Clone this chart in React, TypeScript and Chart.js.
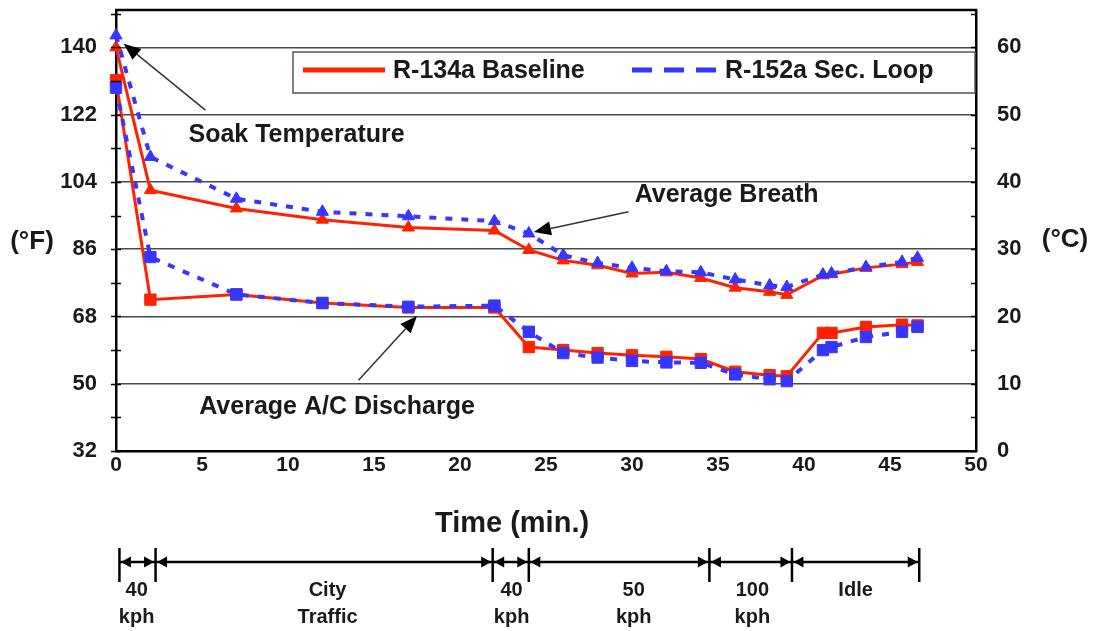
import React, { useEffect, useRef } from "react";
import { Chart, registerables } from "chart.js";

Chart.register(...registerables);

// ---------------- data ----------------
const TIME_MIN = [0, 2, 7, 12, 17, 22, 24, 26, 28, 30, 32, 34, 36, 38, 39, 41.1, 41.6, 43.6, 45.7, 46.6];
const R134A_BREATH_F = [140, 101.8, 96.9, 93.9, 91.8, 91.0, 85.8, 83.0, 81.7, 79.5, 79.8, 78.3, 75.7, 74.6, 73.8, 79.0, 79.3, 81.0, 82.0, 82.6];
const R152A_BREATH_F = [143.2, 110.7, 99.5, 96.0, 94.8, 93.5, 90.2, 84.4, 82.3, 81.0, 80.1, 79.8, 77.9, 76.3, 75.9, 79.2, 79.5, 81.2, 82.6, 83.7];
const R134A_DISCHARGE_F = [131.2, 72.5, 73.9, 71.6, 70.4, 70.4, 59.8, 59.0, 58.2, 57.6, 57.2, 56.6, 53.2, 52.3, 52.0, 63.6, 63.6, 65.2, 65.8, 65.6];
const R152A_DISCHARGE_F = [129.2, 83.9, 73.9, 71.6, 70.6, 70.9, 63.9, 58.2, 57.0, 56.1, 55.7, 55.6, 52.5, 51.2, 50.7, 59.0, 59.8, 62.5, 63.9, 65.2];

const SERIES_NAMES = ["R-134a Baseline", "R-152a Sec. Loop"];
const F_TICKS = [32, 50, 68, 86, 104, 122, 140];
const C_TICKS = [0, 10, 20, 30, 40, 50, 60];
const X_TICKS = [0, 5, 10, 15, 20, 25, 30, 35, 40, 45, 50];
const F_MIN = 32;
const F_MAX = 150;
const X_MIN = 0;
const X_MAX = 50;

const PHASE_BOUNDS = [0.2, 2.3, 21.9, 24.0, 34.5, 39.3, 46.7];
const PHASE_LABEL_AT = [1.2, 12.3, 23.0, 30.1, 37.0, 43.0];
const PHASE_LABELS = [["40", "kph"], ["City", "Traffic"], ["40", "kph"], ["50", "kph"], ["100", "kph"], ["Idle"]];

const CALLOUTS = [
  { text: "Soak Temperature", at: [10.5, 116.5], tail: [5.2, 123.2], tip: [0.45, 141.0] },
  { text: "Average Breath", at: [35.5, 100.4], tail: [29.8, 96.0], tip: [24.3, 90.6] },
  { text: "Average A/C Discharge", at: [12.85, 43.8], tail: [14.1, 50.9], tip: [17.5, 68.1] },
];

const X_TITLE = "Time (min.)";
const F_TITLE = "(°F)";
const C_TITLE = "(°C)";

// ---------------- style ----------------
const FONT = '"Liberation Sans", Arial, Helvetica, sans-serif';
const INK = "#1a1a1a";
const RED = "#ff2200";
const BLUE = "#3636ff";
const GRID = "#4a4a4a";

const fToC = (f: number) => (f - 32) / 1.8;

function drawArrow(ctx: CanvasRenderingContext2D, x1: number, y1: number, x2: number, y2: number, len: number, half: number) {
  const ang = Math.atan2(y2 - y1, x2 - x1);
  const bx = x2 - len * Math.cos(ang);
  const by = y2 - len * Math.sin(ang);
  ctx.beginPath();
  ctx.moveTo(x1, y1);
  ctx.lineTo(bx, by);
  ctx.stroke();
  ctx.beginPath();
  ctx.moveTo(x2, y2);
  ctx.lineTo(bx + half * Math.sin(ang), by - half * Math.cos(ang));
  ctx.lineTo(bx - half * Math.sin(ang), by + half * Math.cos(ang));
  ctx.closePath();
  ctx.fill();
}

const extrasPlugin = {
  id: "extras",
  afterDraw(chart: any) {
    const { ctx, chartArea } = chart;
    const xs = chart.scales.x;
    const ys = chart.scales.yF;
    const cs = chart.scales.yC;
    const { left, right, top, bottom } = chartArea;
    ctx.save();

    // top frame line
    ctx.strokeStyle = "#000";
    ctx.lineWidth = 2.5;
    ctx.beginPath();
    ctx.moveTo(left - 1, top);
    ctx.lineTo(right + 1, top);
    ctx.stroke();

    // tick marks (major + minor)
    ctx.lineWidth = 1.5;
    for (let f = F_MIN; f <= F_MAX; f += 9) {
      const y = Math.round(ys.getPixelForValue(f)) + 0.5;
      ctx.beginPath();
      ctx.moveTo(left - 5, y);
      ctx.lineTo(left + 5, y);
      ctx.stroke();
    }
    for (let c = 0; c <= fToC(F_MAX); c += 5) {
      const y = Math.round(cs.getPixelForValue(c)) + 0.5;
      ctx.beginPath();
      ctx.moveTo(right - 5, y);
      ctx.lineTo(right + 1, y);
      ctx.stroke();
    }

    // legend box
    const bx = left + 177;
    const by = top + 42;
    const bw = right - 1 - bx;
    const bh = 41;
    ctx.fillStyle = "#fff";
    ctx.fillRect(bx, by, bw, bh);
    ctx.strokeStyle = "#555";
    ctx.lineWidth = 1.5;
    ctx.strokeRect(bx, by, bw, bh);
    const ly = by + 18;
    ctx.lineWidth = 5;
    ctx.strokeStyle = RED;
    ctx.beginPath();
    ctx.moveTo(bx + 10, ly);
    ctx.lineTo(bx + 92, ly);
    ctx.stroke();
    ctx.strokeStyle = BLUE;
    ctx.setLineDash([20, 12]);
    ctx.beginPath();
    ctx.moveTo(bx + 339, ly);
    ctx.lineTo(bx + 423, ly);
    ctx.stroke();
    ctx.setLineDash([]);
    ctx.fillStyle = INK;
    ctx.font = `bold 25px ${FONT}`;
    ctx.textBaseline = "middle";
    ctx.textAlign = "left";
    ctx.fillText(SERIES_NAMES[0], bx + 100, ly + 1);
    ctx.fillText(SERIES_NAMES[1], bx + 432, ly + 1);

    // callouts
    ctx.strokeStyle = "#333";
    ctx.fillStyle = "#000";
    ctx.lineWidth = 1.5;
    ctx.font = `bold 25px ${FONT}`;
    ctx.textAlign = "center";
    for (const c of CALLOUTS) {
      drawArrow(
        ctx,
        xs.getPixelForValue(c.tail[0]), ys.getPixelForValue(c.tail[1]),
        xs.getPixelForValue(c.tip[0]), ys.getPixelForValue(c.tip[1]),
        17, 7
      );
      ctx.fillStyle = INK;
      ctx.fillText(c.text, xs.getPixelForValue(c.at[0]), ys.getPixelForValue(c.at[1]));
      ctx.fillStyle = "#000";
    }

    // axis titles
    ctx.fillStyle = INK;
    ctx.font = `bold 26px ${FONT}`;
    ctx.textAlign = "center";
    ctx.fillText(F_TITLE, left - 84, ys.getPixelForValue(88));
    ctx.fillText(C_TITLE, right + 89, ys.getPixelForValue(88.5));
    ctx.font = `bold 29px ${FONT}`;
    ctx.fillText(X_TITLE, left + (right - left) * 0.4605, bottom + 73);

    // driving-phase timeline
    const lineY = bottom + 111;
    ctx.strokeStyle = "#000";
    ctx.fillStyle = "#000";
    ctx.lineWidth = 2.5;
    const bxs = PHASE_BOUNDS.map((t) => xs.getPixelForValue(t));
    ctx.beginPath();
    ctx.moveTo(bxs[0], lineY);
    ctx.lineTo(bxs[bxs.length - 1], lineY);
    ctx.stroke();
    for (const px of bxs) {
      ctx.beginPath();
      ctx.moveTo(px, lineY - 14);
      ctx.lineTo(px, lineY + 20);
      ctx.stroke();
    }
    const ah = 10;
    const aw = 5.5;
    for (let i = 0; i < bxs.length - 1; i++) {
      const a = bxs[i] + 1.5;
      const b = bxs[i + 1] - 1.5;
      ctx.beginPath();
      ctx.moveTo(a, lineY);
      ctx.lineTo(a + ah, lineY - aw);
      ctx.lineTo(a + ah, lineY + aw);
      ctx.closePath();
      ctx.fill();
      ctx.beginPath();
      ctx.moveTo(b, lineY);
      ctx.lineTo(b - ah, lineY - aw);
      ctx.lineTo(b - ah, lineY + aw);
      ctx.closePath();
      ctx.fill();
    }
    ctx.fillStyle = INK;
    ctx.font = `bold 20px ${FONT}`;
    ctx.textAlign = "center";
    PHASE_LABELS.forEach((lines, i) => {
      const px = xs.getPixelForValue(PHASE_LABEL_AT[i]);
      lines.forEach((s, j) => ctx.fillText(s, px, bottom + 139 + j * 27));
    });

    ctx.restore();
  },
};

function series(values: number[]) {
  return values.map((v, i) => ({ x: TIME_MIN[i], y: v }));
}

export default function App() {
  const ref = useRef<HTMLCanvasElement | null>(null);

  useEffect(() => {
    document.body.style.margin = "0";
    const canvas = ref.current;
    if (!canvas) return;
    Chart.defaults.font.family = FONT;

    const blueCommon = {
      borderColor: BLUE,
      backgroundColor: BLUE,
      pointBackgroundColor: BLUE,
      pointBorderColor: BLUE,
      borderWidth: 4,
      borderDash: [7, 9],
      borderCapStyle: "butt" as const,
      pointBorderWidth: 1,
      tension: 0,
      clip: false as const,
      yAxisID: "yF",
    };
    const redCommon = {
      borderColor: RED,
      backgroundColor: RED,
      pointBackgroundColor: RED,
      pointBorderColor: RED,
      borderWidth: 3,
      pointBorderWidth: 1,
      tension: 0,
      clip: false as const,
      yAxisID: "yF",
    };

    const chart = new Chart(canvas, {
      type: "line",
      data: {
        datasets: [
          { ...blueCommon, label: SERIES_NAMES[1] + " breath", data: series(R152A_BREATH_F), pointStyle: "triangle", pointRadius: 7 },
          { ...blueCommon, label: SERIES_NAMES[1] + " discharge", data: series(R152A_DISCHARGE_F), pointStyle: "rect", pointRadius: 8 },
          { ...redCommon, label: SERIES_NAMES[0] + " breath", data: series(R134A_BREATH_F), pointStyle: "triangle", pointRadius: 7 },
          { ...redCommon, label: SERIES_NAMES[0] + " discharge", data: series(R134A_DISCHARGE_F), pointStyle: "rect", pointRadius: 8 },
        ],
      },
      options: {
        animation: false,
        responsive: false,
        devicePixelRatio: 1,
        layout: { padding: { top: 10, left: 0, right: 0, bottom: 0 } },
        plugins: {
          legend: { display: false },
          tooltip: { enabled: false },
        },
        scales: {
          x: {
            type: "linear",
            min: X_MIN,
            max: X_MAX,
            afterBuildTicks: (s: any) => {
              s.ticks = X_TICKS.map((v) => ({ value: v }));
            },
            afterFit: (s: any) => {
              s.height = 180;
              s.paddingLeft = 0;
              s.paddingRight = 0;
            },
            grid: { display: false, drawTicks: false },
            border: { display: true, color: "#000", width: 2.5 },
            ticks: { color: INK, font: { size: 21, weight: "bold" }, padding: 2, maxRotation: 0 },
          },
          yF: {
            type: "linear",
            position: "left",
            min: F_MIN,
            max: F_MAX,
            afterBuildTicks: (s: any) => {
              s.ticks = F_TICKS.map((v) => ({ value: v }));
            },
            afterFit: (s: any) => {
              s.width = 116;
              s.paddingTop = 0;
              s.paddingBottom = 0;
            },
            grid: { display: true, color: GRID, lineWidth: 1.5, drawTicks: false },
            border: { display: true, color: "#000", width: 2.5 },
            ticks: { color: INK, font: { size: 22, weight: "bold" }, padding: 19 },
          },
          yC: {
            type: "linear",
            position: "right",
            min: 0,
            max: fToC(F_MAX),
            afterBuildTicks: (s: any) => {
              s.ticks = C_TICKS.map((v) => ({ value: v }));
            },
            afterFit: (s: any) => {
              s.width = 117;
              s.paddingTop = 0;
              s.paddingBottom = 0;
            },
            grid: { display: false, drawTicks: false },
            border: { display: true, color: "#000", width: 2.5 },
            ticks: { color: INK, font: { size: 22, weight: "bold" }, padding: 21 },
          },
        },
      },
      plugins: [extrasPlugin],
    });
    return () => chart.destroy();
  }, []);

  return (
    <div style={{ width: 1093, height: 631, background: "#fff" }}>
      <canvas ref={ref} width={1093} height={631} style={{ display: "block", width: 1093, height: 631 }} />
    </div>
  );
}
